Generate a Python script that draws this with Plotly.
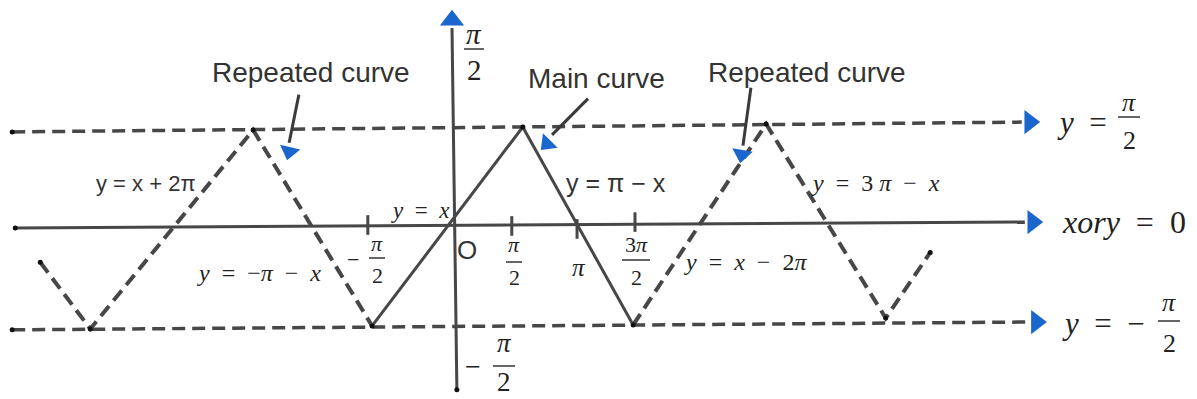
import plotly.graph_objects as go

# ---- data (x and y measured in units of pi/2, as drawn in the sketch) ----
main_x = [-1.31, 1.16, 2.97]
main_y = [-1.03, 1.00, -1.02]

rep_left_x = [-6.75, -5.93, -3.26, -1.31]
rep_left_y = [-0.38, -1.06, 0.97, -1.03]

rep_right_x = [2.97, 5.15, 7.11, 7.84]
rep_right_y = [-1.02, 1.03, -0.95, -0.28]

upper_x = [-7.21, 9.34]
upper_y = [0.95, 1.05]
lower_x = [-7.21, 9.44]
lower_y = [-1.07, -0.99]

xaxis_x = [-7.16, 9.39]
xaxis_y = [-0.03, 0.03]
yaxis_x = [0.08, 0.0]
yaxis_y = [-1.68, 2.01]

tick_x = [-1.38, 0.98, 2.05, 3.00]
tick_y = [0.00, -0.01, -0.04, 0.03]

guide_head_x = [9.47, 9.58, 9.52]
guide_head_y = [1.05, -0.99, 0.03]
yaxis_head_x = [0.0]
yaxis_head_y = [2.09]

callout_x = [[-2.51, -2.67], [2.23, 1.64], [4.90, 4.77]]
callout_y = [[1.33, 0.84], [1.29, 0.92], [1.40, 0.81]]
callout_head_x = [-2.67, 1.56, 4.75]
callout_head_y = [0.75, 0.83, 0.72]
callout_head_angle = [13, 45, 10]

end_dots_x = [-7.21, -7.21, -7.16, -6.75, 7.84, 0.08, -1.31, 1.16, 2.97, -5.93, -3.26, 5.15, 7.11]
end_dots_y = [0.95, -1.07, -0.03, -0.38, -0.28, -1.68, -1.03, 1.00, -1.02, -1.06, 0.97, 1.03, -0.95]

# ---- figure ----
W, H = 1197, 399
X0, SX, Y0, SY = 452.0, 61.0, 225.0, 98.0
LINE = "#474747"
BLUE = "#1a66cc"
TXT = "#333333"
MATH = "#222222"
SERIF = "Liberation Serif"
SANS = "Liberation Sans"
NB = "\u00a0"

fig = go.Figure()

def line(xs, ys, dash=None, width=3, color=LINE):
    fig.add_trace(go.Scatter(x=xs, y=ys, mode="lines",
                             line=dict(color=color, width=width,
                                       dash=dash if dash else "solid"),
                             hoverinfo="skip", showlegend=False))

DASH = "13px,7px"
line(upper_x, upper_y, DASH, width=3.5)
line(lower_x, lower_y, DASH, width=3.5)
line(xaxis_x, xaxis_y, width=3)
line(yaxis_x, yaxis_y, width=3)
line(rep_left_x, rep_left_y, DASH, width=4)
line(rep_right_x, rep_right_y, DASH, width=4)
line(main_x, main_y, width=3)
for cx, cy in zip(callout_x, callout_y):
    line(cx, cy, width=3, color="#3a3a3a")

# tick marks
fig.add_trace(go.Scatter(x=tick_x, y=tick_y, mode="markers",
                         marker=dict(symbol="line-ns", size=14,
                                     line=dict(width=3, color=LINE)),
                         hoverinfo="skip", showlegend=False))
# small dots
fig.add_trace(go.Scatter(x=end_dots_x, y=end_dots_y, mode="markers",
                         marker=dict(size=5, color="#111111"),
                         hoverinfo="skip", showlegend=False))
# arrow heads
fig.add_trace(go.Scatter(x=guide_head_x, y=guide_head_y, mode="markers",
                         marker=dict(symbol="triangle-right", size=21, color=BLUE),
                         hoverinfo="skip", showlegend=False))
fig.add_trace(go.Scatter(x=yaxis_head_x, y=yaxis_head_y, mode="markers",
                         marker=dict(symbol="triangle-up", size=21, color=BLUE),
                         hoverinfo="skip", showlegend=False))
fig.add_trace(go.Scatter(x=callout_head_x, y=callout_head_y, mode="markers",
                         marker=dict(symbol="triangle-down", size=18, color=BLUE,
                                     angle=callout_head_angle),
                         hoverinfo="skip", showlegend=False))

# ---- text ----
def P(px, py):
    return px / W, 1 - py / H

ann = []
shapes = []

def text(px, py, s, size, font=SANS, color=TXT, xanchor="center"):
    x, y = P(px, py)
    ann.append(dict(x=x, y=y, xref="paper", yref="paper", text=s, showarrow=False,
                    xanchor=xanchor, yanchor="middle",
                    font=dict(family=font, size=size, color=color)))

def frac(cx, ny, by, dy, num, den, size, half):
    text(cx, ny, num, size, SERIF, MATH)
    text(cx, dy, den, size, SERIF, MATH)
    x0, y0 = P(cx - half, by)
    x1, y1 = P(cx + half, by)
    shapes.append(dict(type="line", xref="paper", yref="paper", x0=x0, x1=x1,
                       y0=y0, y1=y1, line=dict(color="#333333", width=1.5)))

def sp(*parts):
    return (NB * 2).join(parts)

text(311, 73, "Repeated curve", 28)
text(596, 78, "Main curve", 28)
text(807, 73, "Repeated curve", 28)

text(146, 183, "y = x + 2π", 22)
text(616, 183, "y = π − x", 25)
text(875, 183, sp("<i>y</i>", "=", "3" + NB + "<i>π</i>", "−", "<i>x</i>"), 24, SERIF, MATH)
text(745, 262, sp("<i>y</i>", "=", "<i>x</i>", "−", "2<i>π</i>"), 24, SERIF, MATH)
text(259, 273, sp("<i>y</i>", "=", "−<i>π</i>", "−", "<i>x</i>"), 24, SERIF, MATH)
text(420, 210, sp("<i>y</i>", "=", "<i>x</i>"), 23, SERIF, MATH)
text(467, 250, "O", 26)

# axis fractions
frac(474, 34, 49, 70, "<i>π</i>", "2", 29, 10)
text(1055, 122, sp("<i>y</i>", "="), 31, SERIF, MATH, xanchor="left")
frac(1129, 102, 117, 141, "<i>π</i>", "2", 26, 11)
text(1060, 222, "<i>xory</i>" + NB * 2 + "=" + NB * 2 + "0", 32, SERIF, MATH, xanchor="left")
text(1060, 323, sp("<i>y</i>", "=", "−"), 31, SERIF, MATH, xanchor="left")
frac(1169, 302, 321, 343, "<i>π</i>", "2", 26, 11)

# tick fractions
text(353, 259, "−", 22, SERIF, MATH)
frac(377, 243, 258, 275, "<i>π</i>", "2", 22, 8)
frac(514, 244, 262, 277, "<i>π</i>", "2", 22, 8)
text(579, 267, "<i>π</i>", 25, SERIF, MATH)
frac(636, 244, 260, 277, "3<i>π</i>", "2", 22, 14)
text(473, 366, "−", 28, SERIF, MATH)
frac(504, 343, 366, 382, "<i>π</i>", "2", 27, 11)

fig.update_layout(
    width=W, height=H,
    margin=dict(l=0, r=0, t=0, b=0),
    paper_bgcolor="white", plot_bgcolor="white",
    xaxis=dict(range=[(0 - X0) / SX, (W - X0) / SX], visible=False, fixedrange=True),
    yaxis=dict(range=[(Y0 - H) / SY, Y0 / SY], visible=False, fixedrange=True),
    annotations=ann, shapes=shapes, showlegend=False,
)

fig.write_html("out.html",
               config={"displayModeBar": False, "staticPlot": True},
               post_script="document.body.style.margin='0px';document.body.style.overflow='hidden';")
